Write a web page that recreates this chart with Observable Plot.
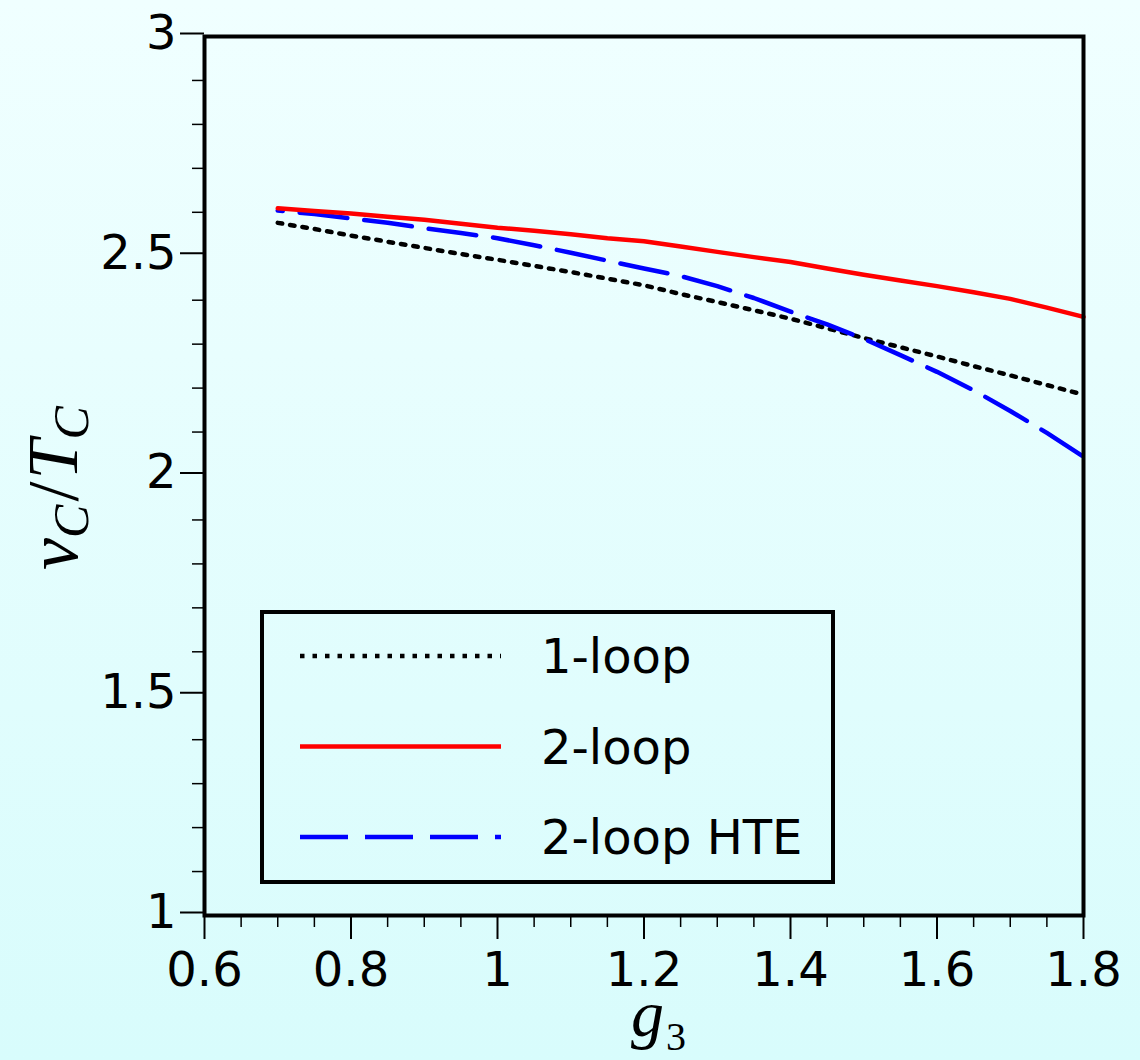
<!DOCTYPE html>
<html>
<head>
<meta charset="utf-8">
<script src="https://cdn.jsdelivr.net/npm/d3@7"></script>
<script src="https://cdn.jsdelivr.net/npm/@observablehq/plot@0.6"></script>
<style>
  html, body { margin: 0; padding: 0; background: #e6ffff; }
</style>
</head>
<body>
<div id="chart"></div>
<script>
const g3 = [0.70, 0.75, 0.80, 0.85, 0.90, 0.95, 1.00, 1.05, 1.10, 1.15, 1.20, 1.25,
            1.30, 1.35, 1.40, 1.45, 1.50, 1.55, 1.60, 1.65, 1.70, 1.75, 1.80];
const oneLoop = [2.576, 2.562, 2.547, 2.533, 2.519, 2.505, 2.492, 2.478, 2.464, 2.449, 2.434, 2.414,
                 2.396, 2.377, 2.358, 2.336, 2.314, 2.293, 2.272, 2.250, 2.229, 2.207, 2.185];
const twoLoop = [2.609, 2.603, 2.597, 2.590, 2.583, 2.574, 2.565, 2.558, 2.550, 2.541, 2.534, 2.522,
                 2.510, 2.498, 2.487, 2.472, 2.458, 2.445, 2.432, 2.418, 2.403, 2.383, 2.362];
const twoLoopHTE = [2.604, 2.596, 2.586, 2.576, 2.564, 2.553, 2.541, 2.525, 2.508, 2.490, 2.472, 2.455,
                    2.432, 2.405, 2.374, 2.345, 2.312, 2.275, 2.237, 2.195, 2.148, 2.098, 2.044];

const seriesNames = ["1-loop", "2-loop", "2-loop HTE"];
const xMajor = [0.6, 0.8, 1.0, 1.2, 1.4, 1.6, 1.8];
const xMinor = [0.65, 0.7, 0.75, 0.85, 0.9, 0.95, 1.05, 1.1, 1.15, 1.25, 1.3, 1.35, 1.45, 1.5, 1.55, 1.65, 1.7, 1.75];
const yMajor = [1, 1.5, 2, 2.5, 3];
const yMinor = [1.1, 1.2, 1.3, 1.4, 1.6, 1.7, 1.8, 1.9, 2.1, 2.2, 2.3, 2.4, 2.6, 2.7, 2.8, 2.9];

const mk = arr => g3.map((g, i) => ({g, v: arr[i]}));
const d1 = mk(oneLoop), d2 = mk(twoLoop), d3h = mk(twoLoopHTE);
const fmt = d => String(+(+d).toFixed(2));

const styles = [
  {stroke: "black", strokeWidth: 4.5, strokeDasharray: "4.5 8", strokeDashoffset: 0},
  {stroke: "#ff0000", strokeWidth: 4.5, strokeDasharray: null, strokeDashoffset: 0},
  {stroke: "#0000ff", strokeWidth: 4.5, strokeDasharray: "48 17", strokeDashoffset: 43}
];

const chart = Plot.plot({
  width: 1140,
  height: 1060,
  marginLeft: 204,
  marginRight: 57,
  marginTop: 36,
  marginBottom: 145,
  x: {domain: [0.6, 1.8]},
  y: {domain: [1, 3]},
  style: {
    background: "linear-gradient(to bottom, #f0ffff, #d8fcfc)",
    fontFamily: "DejaVu Sans",
    fontSize: "48px",
    color: "black"
  },
  marks: [
    Plot.axisX(xMinor, {tickSize: 12, text: null, strokeWidth: 1.5, label: null}),
    Plot.axisX(xMajor, {tickSize: 24, tickPadding: 12, tickFormat: fmt, strokeWidth: 2, label: null, fontSize: 48}),
    Plot.axisY(yMinor, {tickSize: 12, text: null, strokeWidth: 1.5, label: null}),
    Plot.axisY(yMajor, {tickSize: 24, tickPadding: 4, tickFormat: fmt, strokeWidth: 2, label: null, fontSize: 48, dy: -3}),
    Plot.line(d1, {x: "g", y: "v", stroke: styles[0].stroke, strokeWidth: styles[0].strokeWidth, strokeDasharray: styles[0].strokeDasharray}),
    Plot.line(d3h, {x: "g", y: "v", stroke: styles[2].stroke, strokeWidth: styles[2].strokeWidth, strokeDasharray: styles[2].strokeDasharray, strokeDashoffset: styles[2].strokeDashoffset}),
    Plot.line(d2, {x: "g", y: "v", stroke: styles[1].stroke, strokeWidth: styles[1].strokeWidth}),
    Plot.frame({stroke: "black", strokeWidth: 4})
  ]
});

document.getElementById("chart").appendChild(chart);
const svg = d3.select(chart);

// Legend
const lg = svg.append("g").attr("text-anchor", "start");
lg.append("rect").attr("x", 262).attr("y", 612).attr("width", 571).attr("height", 270)
  .attr("fill", "none").attr("stroke", "black").attr("stroke-width", 4);
seriesNames.forEach((name, i) => {
  const y = 656 + i * 90.5;
  const s = styles[i];
  const ln = lg.append("line").attr("x1", 300).attr("x2", 501).attr("y1", y).attr("y2", y)
    .attr("stroke", s.stroke).attr("stroke-width", s.strokeWidth);
  if (s.strokeDasharray) ln.attr("stroke-dasharray", s.strokeDasharray);
  lg.append("text").attr("x", 541).attr("y", y + 17).attr("text-anchor", "start")
    .style("font-family", "DejaVu Sans").style("font-size", "48px").attr("fill", "black")
    .text(name);
});

// Axis labels
const math = "Liberation Serif";
const yl = svg.append("text")
  .attr("transform", "translate(77,488) rotate(-90)")
  .attr("text-anchor", "middle")
  .style("font-family", math).style("font-style", "italic").style("font-size", "72px").attr("fill", "black");
yl.append("tspan").text("v");
yl.append("tspan").attr("dy", 11).style("font-size", "50px").text("C");
yl.append("tspan").attr("dy", -11).attr("dx", 3).style("font-style", "normal").text("/");
yl.append("tspan").attr("dx", 2).text("T");
yl.append("tspan").attr("dy", 11).style("font-size", "50px").text("C");

const xl = svg.append("text")
  .attr("x", 631).attr("y", 1036).attr("text-anchor", "start")
  .style("font-family", math).style("font-style", "italic").style("font-size", "66px").attr("fill", "black");
xl.append("tspan").text("g");
xl.append("tspan").attr("dy", 14).attr("dx", 2).style("font-size", "40px").style("font-style", "normal").text("3");
</script>
</body>
</html>
